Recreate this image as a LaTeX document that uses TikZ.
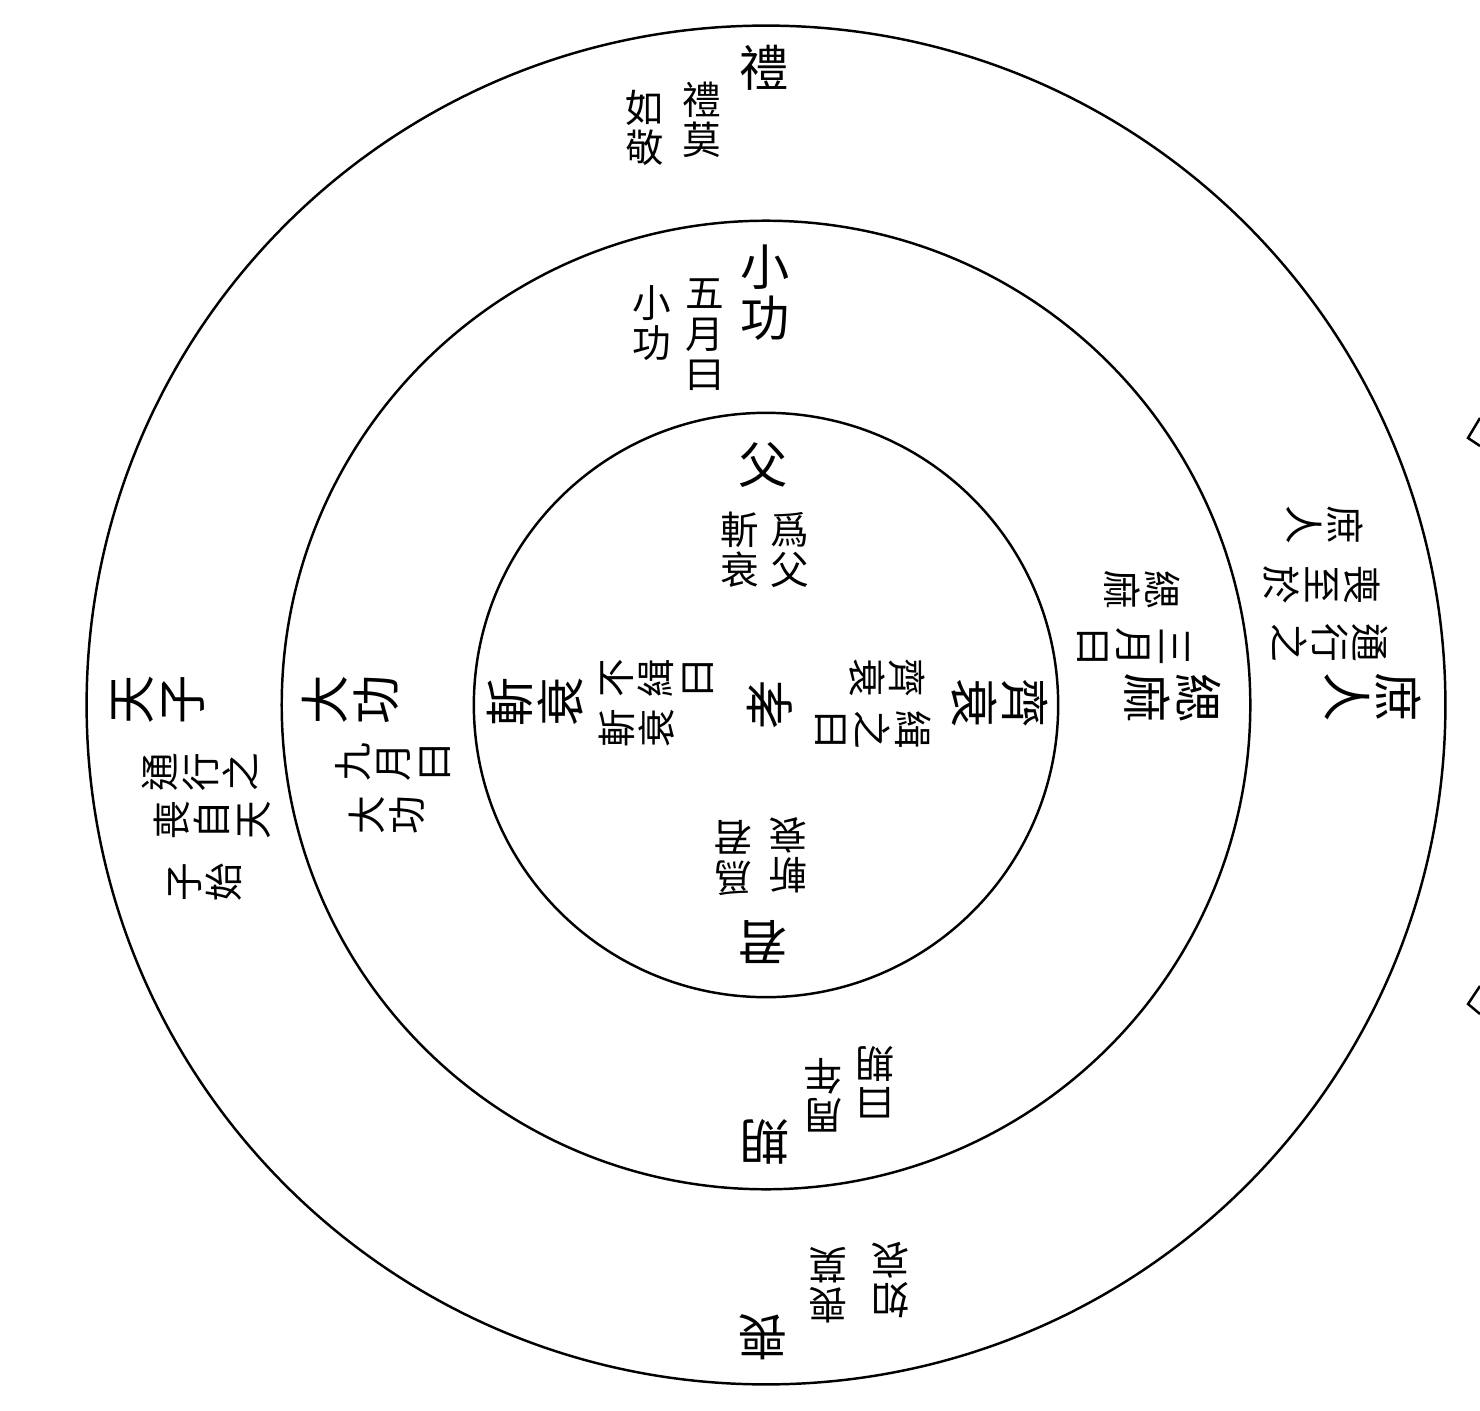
\documentclass[tikz,border=0pt]{standalone}
\usepackage{fontspec}
\newfontfamily\cjk{Noto Sans CJK TC}

\begin{document}
\begin{tikzpicture}[x=0.01cm, y=0.01cm,
        Ring/.style={draw=black, line width=0.7pt},
        Title/.style={font=\cjk\fontsize{14}{14.5}\selectfont, align=center, inner sep=0pt},
        Note/.style={font=\cjk\fontsize{11}{11.5}\selectfont, align=center, inner sep=0pt},
        Top/.style={rotate=0},
        Bottom/.style={rotate=180},
        Left/.style={rotate=90},
        Right/.style={rotate=-90}
    ]

    \useasboundingbox (0,0) rectangle (1480,-1410);

    % The three rings
    \coordinate (C) at (766,-705);
    \draw[Ring] (C) circle[radius=6.79cm];
    \draw[Ring] (C) circle[radius=4.84cm];
    \draw[Ring] (C) circle[radius=2.92cm];

    % Outer ring
    \node (liTitle) [Title, Top] at (764,-68) {禮};
    \node (liNoteA) [Note, Top] at (702,-120) {禮\\莫};
    \node (liNoteB) [Note, Top] at (645,-128) {如\\敬};

    \node (sangTitle) [Title, Bottom] at (763,-1337) {喪};
    \node (sangNoteA) [Note, Bottom] at (828,-1285) {喪\\莫};
    \node (sangNoteB) [Note, Bottom] at (890,-1280) {如\\哀};

    \node (tzTitle) [Title, Left] at (158,-700) {天\\子};
    \node (tzNoteA) [Note, Left] at (200,-772) {通\\行\\之};
    \node (tzNoteB) [Note, Left] at (212,-820) {喪\\自\\天};
    \node (tzNoteC) [Note, Left] at (205,-882) {子\\始};

    \node (srTitle) [Title, Right] at (1373,-697) {庶\\人};
    \node (srNoteA) [Note, Right] at (1330,-643) {通\\行\\之};
    \node (srNoteB) [Note, Right] at (1322,-585) {喪\\至\\於};
    \node (srNoteC) [Note, Right] at (1325,-525) {庶\\人};

    % Middle ring
    \node (xgTitle) [Title, Top] at (765,-293) {小\\功};
    \node (xgNoteA) [Note, Top] at (705,-335) {五\\月\\曰};
    \node (xgNoteB) [Note, Top] at (652,-323) {小\\功};

    \node (qiTitle) [Title, Bottom] at (765,-1142) {期};
    \node (qiNoteA) [Note, Bottom] at (823,-1095) {周\\年};
    \node (qiNoteB) [Note, Bottom] at (875,-1082) {曰\\期};

    \node (dgTitle) [Title, Left] at (350,-700) {大\\功};
    \node (dgNoteA) [Note, Left] at (393,-762) {九\\月\\曰};
    \node (dgNoteB) [Note, Left] at (387,-815) {大\\功};

    \node (smTitle) [Title, Right] at (1173,-698) {緦\\麻};
    \node (smNoteA) [Note, Right] at (1133,-647) {三\\月\\曰};
    \node (smNoteB) [Note, Right] at (1142,-590) {緦\\麻};

    % Inner ring
    \node (fuTitle) [Title, Top] at (763,-465) {父};
    \node (fuNoteA) [Note, Top] at (790,-550) {爲\\父};
    \node (fuNoteB) [Note, Top] at (740,-550) {斬\\衰};

    \node (junTitle) [Title, Bottom] at (763,-942) {君};
    \node (junNoteA) [Note, Bottom] at (733,-858) {爲\\君};
    \node (junNoteB) [Note, Bottom] at (788,-855) {斬\\衰};

    \node (zcTitle) [Title, Left] at (535,-702) {斬\\衰};
    \node (zcNoteA) [Note, Left] at (657,-678) {不\\緝\\曰};
    \node (zcNoteB) [Note, Left] at (637,-728) {斬\\衰};

    \node (qcTitle) [Title, Right] at (1000,-703) {齊\\衰};
    \node (qcNoteA) [Note, Right] at (873,-730) {緝\\之\\曰};
    \node (qcNoteB) [Note, Right] at (887,-678) {齊\\衰};

    % Centre
    \node (xiao) [Title, Left] at (770,-705) {孝};

    % Marks cut off at the right edge
    \draw[line width=0.7pt] (1480,-418) -- (1468,-438) -- (1480,-446);
    \draw[line width=0.7pt] (1480,-986) -- (1468,-1004) -- (1480,-1014);

\end{tikzpicture}
\end{document}
